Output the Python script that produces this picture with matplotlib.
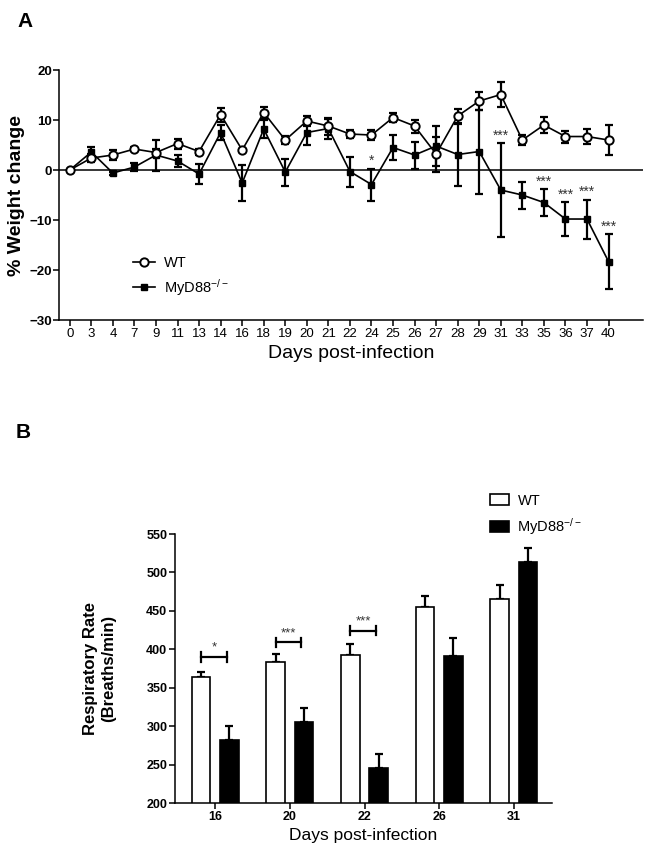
import matplotlib

matplotlib.use("Agg")
import matplotlib.pyplot as plt  # noqa: E402
import numpy as np  # noqa: E402
from matplotlib.lines import Line2D  # noqa: E402
from matplotlib.patches import Patch  # noqa: E402

plt.rcParams.update(
    {
        "font.family": ["Liberation Sans", "DejaVu Sans"],
        "mathtext.default": "regular",
        "axes.linewidth": 1.1,
        "xtick.major.width": 1.1,
        "ytick.major.width": 1.1,
        "xtick.major.size": 4,
        "ytick.major.size": 4,
    }
)

# panel A: % weight change
days_a = [0, 3, 4, 7, 9, 11, 13, 14, 16, 18, 19, 20, 21, 22, 24, 25, 26, 27,
          28, 29, 31, 33, 35, 36, 37, 40]
wt_mean = [0, 2.4, 3.0, 4.2, 3.5, 5.3, 3.7, 11.1, 4.0, 11.5, 6.0, 9.8, 8.8,
           7.2, 7.0, 10.5, 8.8, 3.2, 10.8, 13.8, 15.1, 6.0, 9.0, 6.7, 6.7, 6.0]
wt_err = [0, 0.8, 1.0, 0.4, 0.8, 1.0, 0.6, 1.4, 0.3, 1.2, 0.8, 1.0, 1.7, 0.8,
          1.0, 0.9, 1.3, 3.5, 1.5, 1.8, 2.5, 1.0, 1.6, 1.2, 1.5, 3.0]
myd_mean = [0, 3.6, -0.6, 0.6, 3.0, 1.8, -0.8, 7.5, -2.6, 8.2, -0.4, 7.5, 8.3,
            -0.3, -2.9, 4.5, 3.0, 4.8, 3.1, 3.7, -4.0, -5.0, -6.5, -9.8, -9.8,
            -18.3]
myd_err = [0, 1.1, 0.3, 0.8, 3.1, 1.2, 2.0, 1.5, 3.6, 1.8, 2.7, 2.5, 2.0, 3.0,
           3.2, 2.5, 2.7, 4.0, 6.3, 8.4, 9.4, 2.7, 2.7, 3.4, 3.9, 5.5]
star_days_a = [24, 31, 35, 36, 37, 40]
star_text_a = ["*", "***", "***", "***", "***", "***"]

# panel B: respiratory rate
days_b = ["16", "20", "22", "26", "31"]
wt_rr = [364, 383, 392, 455, 465]
wt_rr_err = [7, 11, 15, 15, 19]
myd_rr = [282, 305, 245, 391, 514]
myd_rr_err = [18, 19, 19, 24, 18]
sig_b = ["*", "***", "***"]
sig_b_y = [390, 409, 424]

MYD = "MyD88$^{-/-}$"

fig = plt.figure(figsize=(6.52, 8.55), dpi=100)

# ---- A ----
ax = fig.add_axes([0.0905, 0.6257, 0.8957, 0.2924])
xa = np.arange(len(days_a))
ax.axhline(0, color="black", lw=1.1, zorder=1)
ax.errorbar(xa, wt_mean, yerr=wt_err, fmt="none", ecolor="black",
            elinewidth=1.6, capsize=3, capthick=1.6, zorder=2)
ax.errorbar(xa, myd_mean, yerr=myd_err, fmt="none", ecolor="black",
            elinewidth=1.6, capsize=3, capthick=1.6, zorder=2)
ax.plot(xa, myd_mean, color="black", lw=1.2, marker="s", ms=5,
        mfc="black", mec="black", zorder=3)
ax.plot(xa, wt_mean, color="black", lw=1.2, marker="o", ms=6,
        mfc="white", mec="black", mew=1.4, zorder=4)

for d, s in zip(star_days_a, star_text_a):
    i = days_a.index(d)
    ax.text(i, myd_mean[i] + myd_err[i] + 0.1, s, ha="center", va="bottom",
            fontsize=10, color="#333333")

ax.set_xlim(-0.5, len(days_a) + 0.6)
ax.set_ylim(-30, 20)
ax.set_yticks([-30, -20, -10, 0, 10, 20])
ax.set_xticks(xa)
ax.set_xticklabels([str(d) for d in days_a], fontsize=9.5)
for t in ax.get_yticklabels():
    t.set_fontsize(9.5)
    t.set_fontweight("bold")
ax.tick_params(axis="x", pad=2)
ax.tick_params(axis="y", pad=1)
ax.spines["top"].set_visible(False)
ax.spines["right"].set_visible(False)
ax.set_ylabel("% Weight change", fontsize=14, fontweight="bold", labelpad=3)
ax.set_xlabel("Days post-infection", fontsize=14, labelpad=3)

handles = [
    Line2D([], [], color="black", lw=1.2, marker="o", ms=6, mfc="white",
           mec="black", mew=1.4),
    Line2D([], [], color="black", lw=1.2, marker="s", ms=5, mfc="black"),
]
ax.legend(handles, ["WT", MYD], loc="upper left", bbox_to_anchor=(0.127, 0.255),
          frameon=False, fontsize=10.5, handlelength=1.5, handletextpad=0.6,
          borderpad=0, borderaxespad=0, labelspacing=0.45)

fig.text(0.038, 0.975, "A", fontsize=15, fontweight="bold", ha="center",
         va="center")

# ---- B ----
bx = fig.add_axes([0.2684, 0.0608, 0.5782, 0.3146])
xb = np.arange(len(days_b))
off, w = 0.19, 0.25
bx.bar(xb - off, wt_rr, width=w, color="white", edgecolor="black",
       lw=1.2, zorder=2)
bx.bar(xb + off, myd_rr, width=w, color="black", edgecolor="black", lw=1.2,
       zorder=2)
zeros = [0] * len(days_b)
bx.errorbar(xb - off, wt_rr, yerr=[zeros, wt_rr_err], fmt="none",
            ecolor="black", elinewidth=1.6, capsize=3, capthick=1.6, zorder=1)
bx.errorbar(xb + off, myd_rr, yerr=[zeros, myd_rr_err], fmt="none",
            ecolor="black", elinewidth=1.6, capsize=3, capthick=1.6, zorder=1)

for i, (s, y) in enumerate(zip(sig_b, sig_b_y)):
    x0, x1 = xb[i] - off, xb[i] + 0.15
    bx.plot([x0, x1], [y, y], color="black", lw=1.6)
    bx.plot([x0, x0], [y - 6, y + 6], color="black", lw=1.6)
    bx.plot([x1, x1], [y - 6, y + 6], color="black", lw=1.6)
    bx.text((x0 + x1) / 2, y + 4, s, ha="center", va="bottom", fontsize=9.5,
            color="#333333")

bx.set_xlim(-0.54, len(days_b) - 0.49)
bx.set_ylim(200, 550)
bx.set_yticks(np.arange(200, 551, 50))
bx.set_xticks(xb)
bx.set_xticklabels(days_b)
for t in bx.get_xticklabels() + bx.get_yticklabels():
    t.set_fontsize(9)
    t.set_fontweight("bold")
bx.tick_params(axis="both", pad=1.5)
bx.spines["top"].set_visible(False)
bx.spines["right"].set_visible(False)
bx.set_ylabel("Respiratory Rate\n(Breaths/min)", fontsize=12,
              fontweight="bold", labelpad=22, linespacing=1.2)
bx.set_xlabel("Days post-infection", fontsize=12.5, labelpad=4)

bhandles = [Patch(facecolor="white", edgecolor="black", lw=1.2),
            Patch(facecolor="black", edgecolor="black", lw=1.2)]
bx.legend(bhandles, ["WT", MYD], loc="upper left",
          bbox_to_anchor=(0.835, 1.15), frameon=False, fontsize=10.5,
          handlelength=1.3, handleheight=0.75, handletextpad=0.6,
          borderpad=0, borderaxespad=0, labelspacing=0.55)

fig.text(0.036, 0.494, "B", fontsize=15, fontweight="bold", ha="center",
         va="center")

fig.savefig("out.png", dpi=100)
